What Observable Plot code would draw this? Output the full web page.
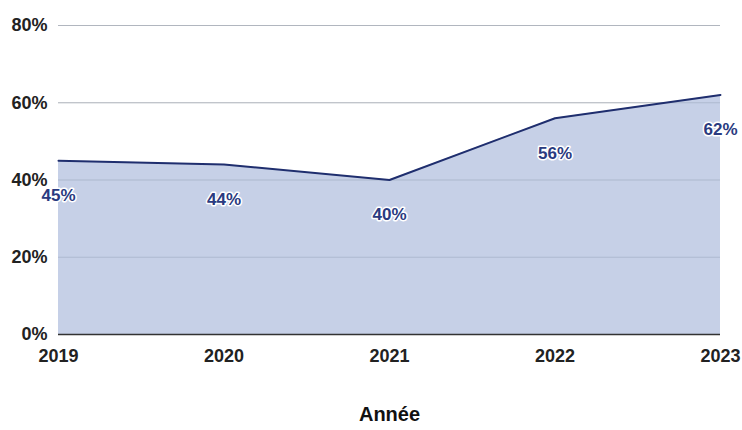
<!DOCTYPE html>
<html><head><meta charset="utf-8">
<script src="https://cdn.jsdelivr.net/npm/d3@7"></script>
<script src="https://cdn.jsdelivr.net/npm/@observablehq/plot@0.6"></script>
<style>body{margin:0;background:#fff}</style>
</head><body><div id="chart"></div>
<script>
const years = [2019, 2020, 2021, 2022, 2023];
const values = [45, 44, 40, 56, 62];
const yTicks = [0, 20, 40, 60, 80];
const xTitle = "Année";
const data = years.map((y, i) => ({year: y, value: values[i]}));

const chart = Plot.plot({
  width: 742, height: 430,
  marginTop: 25, marginLeft: 58, marginRight: 22, marginBottom: 96,
  style: {fontFamily: "'Liberation Sans', Arial, sans-serif", fontSize: "18px", fontWeight: "bold", color: "#222", background: "#fff"},
  x: {type: "linear", domain: [2019, 2023], label: null},
  y: {domain: [0, 80], label: null},
  marks: [
    Plot.gridY(yTicks.filter(d => d > 0), {stroke: "#cccccc", strokeOpacity: 1}),
    Plot.areaY(data, {x: "year", y: "value", fill: "#c6d0e7", fillOpacity: 1}),
    Plot.gridY(yTicks.filter(d => d > 0), {stroke: "#8a95ad", strokeOpacity: 0.4}),
    Plot.ruleY([0], {stroke: "#333", strokeWidth: 1.5}),
    Plot.lineY(data, {x: "year", y: "value", stroke: "#1f2e6e", strokeWidth: 2}),
    Plot.axisY({ticks: yTicks, tickFormat: d => d + "%", tickSize: 0, tickPadding: 11, label: null}),
    Plot.axisX({ticks: years, tickFormat: d => String(d), tickSize: 0, tickPadding: 15, label: null}),
    Plot.text(data, {x: "year", y: "value", text: d => d.value + "%", dy: 35, fill: "#2a3a80", stroke: "white", strokeWidth: 3, fontSize: 17, fontWeight: "bold"}),
    Plot.text([xTitle], {frameAnchor: "bottom", dy: 86, fontSize: 20, fontWeight: "bold", fill: "#111"})
  ]
});
document.getElementById("chart").append(chart);
</script>
</body></html>
